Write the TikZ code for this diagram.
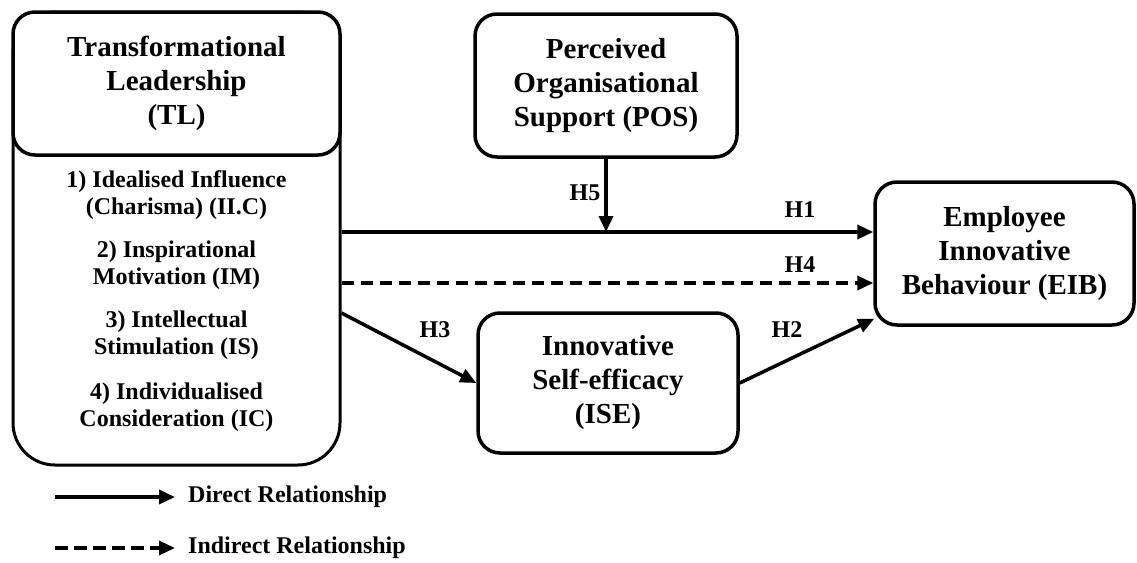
\documentclass[tikz,border=0pt]{standalone}
\usepackage{fontspec}
\setmainfont{Liberation Serif}
\usetikzlibrary{arrows.meta,calc}
\begin{document}
\begin{tikzpicture}[x=1pt,y=-1pt,
  box/.style={draw,line width=3.5pt,rounded corners=22pt,align=center,
    font=\fontsize{29}{34}\selectfont\bfseries,inner sep=0pt,
    minimum width=260pt,minimum height=142pt},
  item/.style={align=center,font=\fontsize{24}{27}\selectfont\bfseries,inner sep=0pt},
  lab/.style={font=\fontsize{24}{27}\selectfont\bfseries,inner sep=0pt},
  arr/.style={line width=3.5pt,-{Triangle[length=16pt,width=14pt]}},
  dasharr/.style={arr,dash pattern=on 12.5pt off 6.5pt}]
\useasboundingbox (0,0) rectangle (1137,562);

% Transformational leadership: body with its dimensions, header on top
\node[box,rounded corners=42pt,line width=3pt,minimum width=327pt,minimum height=453pt] (tl) at (176.5,238.5) {};
\node[box,fill=white,minimum width=327pt,minimum height=143pt] (tlh) at (176.5,83.5) {Transformational\\Leadership\\(TL)};
\node[item] (it1) at (176.5,195.5) {1) Idealised Influence\\(Charisma) (II.C)};
\node[item] (it2) at (176.5,265.5) {2) Inspirational\\Motivation (IM)};
\node[item] (it3) at (176.5,335.5) {3) Intellectual\\Stimulation (IS)};
\node[item] (it4) at (176.5,407) {4) Individualised\\Consideration (IC)};

% Other constructs
\node[box,minimum width=262pt,minimum height=143pt] (pos) at (606,85.5) {Perceived\\Organisational\\Support (POS)};
\node[box,minimum width=260pt,minimum height=140pt] (ise) at (608,383) {Innovative\\Self-efficacy\\(ISE)};
\node[box,minimum width=259pt,minimum height=143pt] (eib) at (1004.5,253.5) {Employee\\Innovative\\Behaviour (EIB)};

% Path start and end points
\coordinate (h1s) at (tl.east |- 0,232);
\coordinate (h1e) at (eib.west |- h1s);
\coordinate (h4s) at (tl.east |- 0,283);
\coordinate (h4e) at (eib.west |- h4s);
\coordinate (h3s) at (tl.east |- 0,313);
\coordinate (h5e) at (pos.south |- h1s);
\coordinate (h2e) at ($(eib.south west)+(1,-8)$);

\draw[arr] (h1s) -- (h1e);
\draw[dasharr] (h4s) -- (h4e);
\draw[arr] (h3s) -- (ise.west);
\draw[arr] (ise.east) -- (h2e);
\draw[arr] (pos.south) -- (h5e);

% Hypothesis labels
\node[lab] (l1) at (800,210) {H1};
\node[lab] (l4) at (800,265) {H4};
\node[lab] (l3) at (435,330) {H3};
\node[lab] (l2) at (787,330) {H2};
\node[lab] (l5) at (585,193) {H5};

% Legend
\node[lab,anchor=west] (legd) at (188,497) {Direct Relationship};
\node[lab,anchor=west] (legi) at (188,548) {Indirect Relationship};
\coordinate (lds) at (55,497);
\coordinate (lis) at (55,548);
\draw[arr,shorten >=13pt] (lds) -- (legd.west);
\draw[dasharr,shorten >=13pt] (lis) -- (legi.west);
\end{tikzpicture}
\end{document}
